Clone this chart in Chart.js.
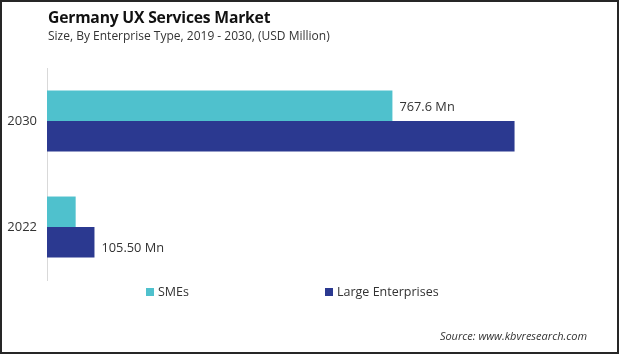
<!DOCTYPE html>
<html>
<head>
<meta charset="utf-8">
<script src="https://cdn.jsdelivr.net/npm/chart.js@4.4.0/dist/chart.umd.min.js"></script>
<style>
    html, body { margin: 0; padding: 0; background: #fff; }
    #wrap {
        position: relative;
        width: 619px;
        height: 354px;
        box-sizing: border-box;
        border: 2px solid #262626;
        overflow: hidden;
        font-family: 'Open Sans', sans-serif;
    }
    #chart { position: absolute; left: -2px; top: -2px; }
    .title { position: absolute; left: 46px; top: 4px; font-size: 15.7px; font-weight: bold; color: #111; letter-spacing: -0.2px; }
    .subtitle { position: absolute; left: 46px; top: 25px; font-size: 12px; color: #333; }
    .legend { position: absolute; top: 281px; font-size: 12.5px; color: #333; white-space: nowrap; }
    .legend span.box { display: inline-block; width: 8px; height: 8px; margin-right: 4px; vertical-align: 0px; }
    .source { position: absolute; right: 30px; top: 326px; font-size: 11px; font-style: italic; color: #333; }
</style>
</head>
<body>
<div id="wrap">
    <canvas id="chart" width="619" height="354"></canvas>
    <div class="title">Germany UX Services Market</div>
    <div class="subtitle">Size, By Enterprise Type, 2019 - 2030, (USD Million)</div>
    <div class="legend" style="left:144px"><span class="box" style="background:#4fc1cd"></span>SMEs</div>
    <div class="legend" style="left:323px"><span class="box" style="background:#2b3990"></span>Large Enterprises</div>
    <div class="source">Source: www.kbvresearch.com</div>
</div>
<script>
// Datos
const years = ['2030', '2022'];
const smes = [767.6, 63.7];
const largeEnterprises = [1039, 105.5];
const smeLabels = ['767.6 Mn', ''];
const largeLabels = ['', '105.50 Mn'];

const colors = {
    smes: '#4fc1cd',
    large: '#2b3990',
    text: '#333333',
    axis: '#d9d9d9'
};

// Etiquetas de valor al final de la barra
const valueLabels = {
    id: 'valueLabels',
    afterDatasetsDraw(chart) {
        const ctx = chart.ctx;
        const all = [smeLabels, largeLabels];
        const dy = [2, 6];
        ctx.save();
        ctx.font = "12.8px 'Open Sans', sans-serif";
        ctx.fillStyle = colors.text;
        ctx.textAlign = 'left';
        ctx.textBaseline = 'middle';
        chart.data.datasets.forEach(function (ds, i) {
            chart.getDatasetMeta(i).data.forEach(function (bar, j) {
                const txt = all[i][j];
                if (!txt) return;
                ctx.fillText(txt, bar.x + 7, bar.y + dy[i]);
            });
        });
        ctx.restore();
    }
};

new Chart(document.getElementById('chart').getContext('2d'), {
    type: 'bar',
    data: {
        labels: years,
        datasets: [{
            label: 'SMEs',
            data: smes,
            backgroundColor: colors.smes,
            categoryPercentage: 0.575,
            barPercentage: 1
        }, {
            label: 'Large Enterprises',
            data: largeEnterprises,
            backgroundColor: colors.large,
            categoryPercentage: 0.575,
            barPercentage: 1
        }]
    },
    options: {
        indexAxis: 'y',
        responsive: false,
        animation: false,
        layout: {
            padding: { left: 3, top: 68, right: 32, bottom: 74 }
        },
        plugins: {
            legend: { display: false },
            tooltip: { enabled: false }
        },
        scales: {
            x: {
                display: false,
                min: 0,
                max: 1200
            },
            y: {
                afterFit: function (axis) { axis.width = 44; },
                grid: { display: true, drawOnChartArea: false, drawTicks: false },
                border: { display: true, color: colors.axis, width: 1 },
                ticks: {
                    color: colors.text,
                    padding: 10,
                    font: { family: "'Open Sans', sans-serif", size: 13 }
                }
            }
        }
    },
    plugins: [valueLabels]
});
</script>
</body>
</html>
